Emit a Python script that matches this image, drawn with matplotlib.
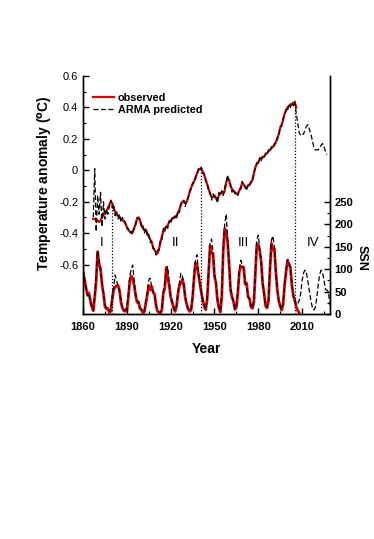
import matplotlib
matplotlib.use('Agg')
import matplotlib.pyplot as plt
from matplotlib.ticker import MultipleLocator, FixedLocator

plt.rcParams['font.family'] = ['Liberation Sans', 'DejaVu Sans']

# temperature anomaly, observed (red) and ARMA predicted (black dashed)
temp_years = list(range(1867, 2007))
temp_obs = [
    -0.31, -0.31, -0.32, -0.32, -0.33, -0.32, -0.30, -0.28, -0.27, -0.26,
    -0.24, -0.22, -0.20, -0.21, -0.24, -0.27, -0.28, -0.29, -0.30, -0.31,
    -0.32, -0.32, -0.34, -0.36, -0.38, -0.39, -0.40, -0.39, -0.37, -0.34,
    -0.31, -0.30, -0.32, -0.35, -0.37, -0.38, -0.38, -0.40, -0.42, -0.44,
    -0.46, -0.49, -0.51, -0.52, -0.53, -0.50, -0.46, -0.42, -0.39, -0.37,
    -0.36, -0.35, -0.33, -0.32, -0.31, -0.30, -0.30, -0.29, -0.27, -0.25,
    -0.22, -0.20, -0.20, -0.21, -0.20, -0.17, -0.14, -0.11, -0.09, -0.07,
    -0.05, -0.02, 0.00, 0.01, 0.01, -0.01, -0.03, -0.06, -0.09, -0.12,
    -0.15, -0.17, -0.17, -0.16, -0.18, -0.19, -0.16, -0.15, -0.14, -0.15,
    -0.13, -0.08, -0.05, -0.06, -0.10, -0.12, -0.13, -0.14, -0.15, -0.15,
    -0.13, -0.11, -0.08, -0.09, -0.11, -0.11, -0.10, -0.09, -0.08, -0.06,
    -0.02, 0.02, 0.04, 0.05, 0.07, 0.08, 0.08, 0.09, 0.10, 0.11,
    0.12, 0.13, 0.14, 0.15, 0.16, 0.18, 0.20, 0.23, 0.27, 0.29,
    0.32, 0.36, 0.38, 0.40, 0.41, 0.42, 0.42, 0.43, 0.43, 0.40,
]
pred_years = list(range(1867, 2028))
temp_pred = [
    -0.30, 0.01, -0.39, -0.16, -0.28, -0.14, -0.36, -0.20, -0.31, -0.25,
    -0.28, -0.23, -0.19, -0.24, -0.22, -0.29, -0.26, -0.31, -0.28, -0.33,
    -0.30, -0.33, -0.33, -0.37, -0.37, -0.40, -0.39, -0.41, -0.36, -0.35,
    -0.30, -0.31, -0.31, -0.36, -0.35, -0.40, -0.37, -0.42, -0.41, -0.46,
    -0.45, -0.50, -0.50, -0.54, -0.51, -0.51, -0.44, -0.44, -0.37, -0.39,
    -0.35, -0.37, -0.32, -0.34, -0.30, -0.31, -0.29, -0.31, -0.26, -0.27,
    -0.21, -0.21, -0.19, -0.23, -0.19, -0.18, -0.13, -0.12, -0.08, -0.08,
    -0.04, -0.03, 0.01, 0.00, 0.02, -0.02, -0.02, -0.07, -0.08, -0.13,
    -0.14, -0.19, -0.15, -0.17, -0.16, -0.21, -0.14, -0.16, -0.13, -0.16,
    -0.11, -0.08, -0.03, -0.08, -0.09, -0.14, -0.12, -0.15, -0.14, -0.16,
    -0.12, -0.12, -0.07, -0.10, -0.10, -0.13, -0.09, -0.10, -0.07, -0.07,
    -0.01, 0.01, 0.05, 0.04, 0.08, 0.06, 0.09, 0.08, 0.11, 0.10,
    0.13, 0.12, 0.15, 0.14, 0.17, 0.17, 0.21, 0.22, 0.28, 0.28,
    0.33, 0.35, 0.39, 0.38, 0.42, 0.40, 0.43, 0.41, 0.44, 0.36,
    0.30, 0.24, 0.22, 0.23, 0.23, 0.26, 0.28, 0.29, 0.26, 0.23,
    0.19, 0.15, 0.13, 0.13, 0.13, 0.14, 0.16, 0.17, 0.15, 0.12,
    0.10,
]

# sunspot number, observed and ARMA predicted
ssn_years = list(range(1860, 2009))
ssn_obs = [
    95.8, 77.2, 59.1, 44.0, 47.0, 30.5, 16.3, 7.3, 37.6, 74.0,
    139.0, 111.2, 101.6, 66.2, 44.7, 17.0, 11.3, 12.4, 3.4, 6.0,
    32.3, 54.3, 59.7, 63.7, 63.5, 52.2, 25.4, 13.1, 6.8, 6.3,
    7.1, 35.6, 73.0, 85.1, 78.0, 64.0, 41.8, 26.2, 26.7, 12.1,
    9.5, 2.7, 5.0, 24.4, 42.0, 63.5, 53.8, 62.0, 48.5, 43.9,
    18.6, 5.7, 3.6, 1.4, 9.6, 47.4, 57.1, 103.9, 80.6, 63.6,
    37.6, 26.1, 14.2, 5.8, 16.7, 44.3, 63.9, 69.0, 77.8, 64.9,
    35.7, 21.2, 11.1, 5.7, 8.7, 36.1, 79.7, 114.4, 109.6, 88.8,
    67.8, 47.5, 30.6, 16.3, 9.6, 33.2, 92.6, 151.6, 136.3, 134.7,
    83.9, 69.4, 31.5, 13.9, 4.4, 38.0, 141.7, 190.2, 184.8, 159.0,
    112.3, 53.9, 37.6, 27.9, 10.2, 15.1, 47.0, 93.8, 105.9, 105.5,
    104.5, 66.6, 68.9, 38.0, 34.5, 15.5, 12.6, 27.5, 92.5, 155.4,
    154.6, 140.4, 115.9, 66.6, 45.9, 17.9, 13.4, 29.4, 100.2, 157.6,
    142.6, 145.7, 94.3, 54.6, 29.9, 17.5, 8.6, 21.5, 64.3, 93.3,
    119.6, 111.0, 104.0, 63.7, 40.4, 29.8, 15.2, 7.5, 2.9,
]
ssn_pred_years = list(range(1860, 2030))
ssn_pred = [
    98, 80, 62, 40, 45, 28, 14, 9, 40, 85,
    140, 120, 95, 70, 48, 22, 14, 12, 6, 10,
    40, 60, 87, 75, 62, 50, 30, 15, 8, 10,
    14, 45, 85, 100, 109, 75, 45, 30, 28, 15,
    10, 5, 8, 30, 50, 75, 80, 60, 50, 40,
    20, 8, 5, 4, 12, 50, 70, 100, 106, 70,
    40, 28, 15, 8, 18, 50, 70, 91, 85, 65,
    40, 22, 12, 8, 10, 40, 90, 120, 132, 95,
    70, 50, 32, 18, 10, 35, 100, 160, 167, 140,
    90, 72, 35, 15, 6, 45, 150, 200, 223, 165,
    115, 58, 40, 28, 12, 18, 50, 100, 120, 110,
    100, 70, 65, 40, 32, 18, 14, 30, 100, 165,
    176, 145, 115, 70, 45, 20, 15, 32, 105, 165,
    174, 150, 95, 55, 30, 18, 10, 24, 68, 98,
    122, 115, 100, 65, 42, 30, 20, 24, 30, 45,
    75, 92, 98, 90, 72, 50, 30, 15, 9, 14,
    35, 65, 88, 98, 92, 75, 55, 53, 50, 20,
]

# dotted markers at temperature peaks
peak_years = [1880, 1941, 2005]
peak_tops = [-0.20, 0.01, 0.43]

# cycle labels
roman_labels = ['I', 'II', 'III', 'IV']
roman_x = [1873, 1923, 1969.5, 2017.5]
roman_y = -0.465


def draw_chart():
    fig = plt.figure(figsize=(3.74, 5.39), dpi=100)
    ax = fig.add_axes([0.222, 0.4174, 0.660, 0.4416])
    ax2 = ax.twinx()

    ax.set_xlim(1860, 2029)
    ax.set_ylim(-0.915, 0.6)
    ax2.set_ylim(0, 531)

    # SSN on the right axis
    ax2.plot(ssn_years, ssn_obs, color='#e00000', lw=2.0, zorder=2)
    ax2.plot(ssn_pred_years, ssn_pred, color='black', lw=0.9,
             dashes=(4, 2), zorder=3)

    # temperature on the left axis
    ax.set_zorder(ax2.get_zorder() + 1)
    ax.patch.set_visible(False)
    l1, = ax.plot(temp_years, temp_obs, color='#e00000', lw=1.6, zorder=2,
                  label='observed')
    l2, = ax.plot(pred_years, temp_pred, color='black', lw=0.9,
                  dashes=(4, 2), zorder=3, label='ARMA predicted')

    ax.vlines(peak_years, -0.915, peak_tops, colors='black',
              linestyles=(0, (1, 1.5)), lw=0.9)

    for lab, xx in zip(roman_labels, roman_x):
        ax.text(xx, roman_y, lab, ha='center', va='center', fontsize=9.5)

    ax.legend(handles=[l1, l2], loc='upper left',
              bbox_to_anchor=(0.0, 0.97), frameon=False,
              handlelength=2.0, handletextpad=0.3, labelspacing=0.2,
              prop={'weight': 'bold', 'size': 7.8})

    # spines
    ax.spines['top'].set_visible(False)
    ax2.spines['top'].set_visible(False)
    for sp in ('left', 'right', 'bottom'):
        ax2.spines[sp].set_linewidth(1.0)
        ax.spines[sp].set_linewidth(1.0)

    # ticks
    ax.xaxis.set_major_locator(MultipleLocator(30))
    ax.xaxis.set_minor_locator(MultipleLocator(15))
    ax.yaxis.set_major_locator(FixedLocator([-0.6, -0.4, -0.2, 0, 0.2, 0.4, 0.6]))
    ax.yaxis.set_minor_locator(FixedLocator([-0.5, -0.3, -0.1, 0.1, 0.3, 0.5]))
    ax.set_yticklabels(['-0.6', '-0.4', '-0.2', '0', '0.2', '0.4', '0.6'])
    ax2.yaxis.set_major_locator(FixedLocator([0, 50, 100, 150, 200, 250]))
    ax2.yaxis.set_minor_locator(FixedLocator([25, 75, 125, 175, 225]))

    ax.tick_params(axis='both', which='both', direction='in')
    ax.tick_params(axis='both', which='major', length=4, width=1,
                   labelsize=8)
    ax.tick_params(axis='x', which='major', pad=6)
    ax.tick_params(axis='both', which='minor', length=2.5, width=0.8)
    ax2.tick_params(axis='y', which='both', direction='in')
    ax2.tick_params(axis='y', which='major', length=4, width=1, labelsize=8)
    ax2.tick_params(axis='y', which='minor', length=2.5, width=0.8)
    for t in ax.get_xticklabels() + ax2.get_yticklabels():
        t.set_fontweight('bold')

    ax.set_xlabel('Year', fontsize=10, fontweight='bold', labelpad=7)
    ax.set_ylabel('Temperature anomaly ($\\mathbf{^{o}}$C)', fontsize=10,
                  fontweight='bold')
    ax.yaxis.set_label_coords(-0.115, 0.55)
    ax2.set_ylabel('SSN', fontsize=9, fontweight='bold', rotation=270,
                   va='center')
    ax2.yaxis.set_label_coords(1.13, 0.235)

    fig.savefig('out.png', dpi=100)
    plt.close(fig)


draw_chart()
